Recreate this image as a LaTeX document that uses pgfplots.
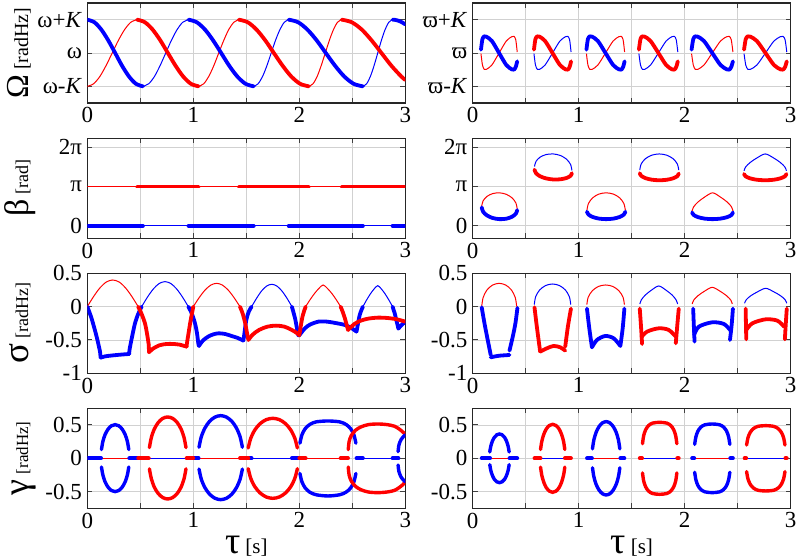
\documentclass[border=0pt]{standalone}
\usepackage{pgfplots}
\pgfplotsset{compat=1.18}
\usepackage{fontspec}
\setmainfont{Liberation Serif}
\definecolor{cb}{RGB}{0,0,255}
\definecolor{cr}{RGB}{255,0,0}
\pgfplotsset{
  panel/.style={scale only axis, width=159pt, height=50pt, xmin=0, xmax=3, anchor=south west,
    xtick={0,1,2,3}, xticklabels={0,1,2,3}, minor xtick={0.5,1.5,2.5},
    grid=both, major grid style={black!18, line width=0.4pt}, minor grid style={black!18, line width=0.4pt},
    axis line style={black!85, line width=0.65pt},
    tick style={black!75, line width=0.5pt}, major tick length=2.5pt, minor tick length=2.5pt,
    ticklabel style={font=\fontsize{11.5}{13}\selectfont},
    xticklabel style={inner sep=2pt},
    yticklabel style={inner sep=2.5pt},
    every axis y label/.style={at={(axis description cs:-0.186,0.5)}, rotate=90, anchor=base},
    every axis x label/.style={at={(axis description cs:0.5,-0.45)}, anchor=base},
  },
  thk/.style={line width=1.9pt, line join=round, line cap=round},
  thn/.style={line width=0.5pt},
  ell/.style={line width=1.7pt, smooth, line cap=round},
}
\begin{document}
\begin{tikzpicture}
\path[use as bounding box] (0pt,0pt) rectangle (400pt,-279.5pt);

%% ---------------- Row 1 left: Omega
\begin{axis}[panel, at={(43.65pt,-51.5pt)}, ymin=-1.5, ymax=1.5, ytick={-1,0,1},
  yticklabels={ω-\textit{K},ω,ω+\textit{K}},
  ylabel={{\fontsize{16}{16}\selectfont Ω} {\fontsize{10}{10}\selectfont[radHz]}}]
\addplot[cr,thn,smooth] coordinates {(0,-1)(0.059,-0.924)(0.118,-0.707)(0.176,-0.383)(0.235,0)(0.294,0.383)(0.353,0.707)(0.411,0.924)(0.47,1)};
\addplot[cr,thn,smooth] coordinates {(1.05,-1)(1.098,-0.924)(1.145,-0.707)(1.193,-0.383)(1.24,0)(1.288,0.383)(1.335,0.707)(1.383,0.924)(1.43,1)};
\addplot[cr,thn,smooth] coordinates {(2.09,-1)(2.129,-0.924)(2.168,-0.707)(2.206,-0.383)(2.245,0)(2.284,0.383)(2.323,0.707)(2.361,0.924)(2.4,1)};
\addplot[cb,thn,smooth] coordinates {(0.525,-1)(0.579,-0.924)(0.633,-0.707)(0.686,-0.383)(0.74,0)(0.794,0.383)(0.848,0.707)(0.901,0.924)(0.955,1)};
\addplot[cb,thn,smooth] coordinates {(1.57,-1)(1.611,-0.924)(1.653,-0.707)(1.694,-0.383)(1.735,0)(1.776,0.383)(1.818,0.707)(1.859,0.924)(1.9,1)};
\addplot[cb,thn,smooth] coordinates {(2.6,-1)(2.635,-0.924)(2.67,-0.707)(2.705,-0.383)(2.74,0)(2.775,0.383)(2.81,0.707)(2.845,0.924)(2.88,1)};
\addplot[cb,thk,smooth] coordinates {(0,1)(0.066,0.924)(0.131,0.707)(0.197,0.383)(0.263,0)(0.328,-0.383)(0.394,-0.707)(0.459,-0.924)(0.525,-1)};
\addplot[cb,thk,smooth] coordinates {(0.955,1)(1.032,0.924)(1.109,0.707)(1.186,0.383)(1.263,0)(1.339,-0.383)(1.416,-0.707)(1.493,-0.924)(1.57,-1)};
\addplot[cb,thk,smooth] coordinates {(1.9,1)(1.988,0.924)(2.075,0.707)(2.163,0.383)(2.25,0)(2.338,-0.383)(2.425,-0.707)(2.513,-0.924)(2.6,-1)};
\addplot[cb,thk,smooth] coordinates {(2.88,1)(2.9,0.996)(2.94,0.964)(2.97,0.919)(3.0,0.858)};
\addplot[cr,thk,smooth] coordinates {(0.47,1)(0.543,0.924)(0.615,0.707)(0.688,0.383)(0.76,0)(0.833,-0.383)(0.905,-0.707)(0.978,-0.924)(1.05,-1)};
\addplot[cr,thk,smooth] coordinates {(1.43,1)(1.513,0.924)(1.595,0.707)(1.678,0.383)(1.76,0)(1.843,-0.383)(1.925,-0.707)(2.008,-0.924)(2.09,-1)};
\addplot[cr,thk,smooth] coordinates {(2.4,1)(2.494,0.924)(2.588,0.707)(2.681,0.383)(2.775,0)(2.869,-0.383)(2.963,-0.707)(3.0,-0.809)};
\end{axis}

%% ---------------- Row 1 right: varpi
\begin{axis}[panel, at={(236.35pt,-51.5pt)}, ymin=-1.5, ymax=1.5, ytick={-1,0,1},
  yticklabels={ϖ-\textit{K},ϖ,ϖ+\textit{K}}]
\addplot[cr,thn,smooth] coordinates {(0.078,-0.02)(0.092,-0.36)(0.109,-0.49)(0.129,-0.49)(0.181,-0.36)(0.249,0)(0.317,0.36)(0.369,0.49)(0.389,0.5)(0.406,0.4)(0.42,0.03)};
\addplot[cb,thn,smooth] coordinates {(0.578,-0.02)(0.592,-0.36)(0.61,-0.49)(0.631,-0.49)(0.683,-0.36)(0.753,0)(0.823,0.36)(0.876,0.49)(0.897,0.5)(0.914,0.4)(0.928,0.03)};
\addplot[cr,thn,smooth] coordinates {(1.073,-0.02)(1.087,-0.36)(1.105,-0.49)(1.127,-0.49)(1.181,-0.36)(1.253,0)(1.325,0.36)(1.379,0.49)(1.401,0.5)(1.419,0.4)(1.433,0.03)};
\addplot[cb,thn,smooth] coordinates {(1.568,-0.02)(1.583,-0.36)(1.601,-0.49)(1.623,-0.49)(1.678,-0.36)(1.752,0)(1.825,0.36)(1.88,0.49)(1.902,0.5)(1.92,0.4)(1.935,0.03)};
\addplot[cr,thn,smooth] coordinates {(2.065,-0.02)(2.081,-0.36)(2.1,-0.49)(2.124,-0.49)(2.182,-0.36)(2.26,0)(2.338,0.36)(2.397,0.49)(2.42,0.5)(2.439,0.4)(2.455,0.03)};
\addplot[cb,thn,smooth] coordinates {(2.56,-0.02)(2.576,-0.36)(2.596,-0.49)(2.62,-0.49)(2.681,-0.36)(2.762,0)(2.842,0.36)(2.903,0.49)(2.927,0.5)(2.947,0.4)(2.963,0.03)};
\addplot[cb,thk,smooth] coordinates {(0.078,0.1)(0.092,0.42)(0.109,0.5)(0.129,0.49)(0.181,0.36)(0.249,0)(0.317,-0.36)(0.369,-0.49)(0.389,-0.5)(0.406,-0.42)(0.42,-0.25)};
\addplot[cr,thk,smooth] coordinates {(0.578,0.1)(0.592,0.42)(0.61,0.5)(0.631,0.49)(0.683,0.36)(0.753,0)(0.823,-0.36)(0.876,-0.49)(0.897,-0.5)(0.914,-0.42)(0.928,-0.25)};
\addplot[cb,thk,smooth] coordinates {(1.073,0.1)(1.087,0.42)(1.105,0.5)(1.127,0.49)(1.181,0.36)(1.253,0)(1.325,-0.36)(1.379,-0.49)(1.401,-0.5)(1.419,-0.42)(1.433,-0.25)};
\addplot[cr,thk,smooth] coordinates {(1.568,0.1)(1.583,0.42)(1.601,0.5)(1.623,0.49)(1.678,0.36)(1.752,0)(1.825,-0.36)(1.88,-0.49)(1.902,-0.5)(1.92,-0.42)(1.935,-0.25)};
\addplot[cb,thk,smooth] coordinates {(2.065,0.1)(2.081,0.42)(2.1,0.5)(2.124,0.49)(2.182,0.36)(2.26,0)(2.338,-0.36)(2.397,-0.49)(2.42,-0.5)(2.439,-0.42)(2.455,-0.25)};
\addplot[cr,thk,smooth] coordinates {(2.56,0.1)(2.576,0.42)(2.596,0.5)(2.62,0.49)(2.681,0.36)(2.762,0)(2.842,-0.36)(2.903,-0.49)(2.927,-0.5)(2.947,-0.42)(2.963,-0.25)};
\end{axis}

%% ---------------- Row 2 left: beta (units of pi)
\begin{axis}[panel, at={(43.65pt,-119.15pt)}, ymin=-0.318, ymax=2.228, ytick={0,1,2},
  yticklabels={0,π,2π},
  ylabel={{\fontsize{17}{17}\selectfont β} {\fontsize{9}{9}\selectfont[rad]}}]
\addplot[cr,thn] coordinates {(0,1)(3,1)};
\addplot[cb,thn] coordinates {(0,0)(3,0)};
\addplot[cr,thk] coordinates {(0.47,1)(1.05,1)};
\addplot[cr,thk] coordinates {(1.43,1)(2.09,1)};
\addplot[cr,thk] coordinates {(2.4,1)(3,1)};
\addplot[cb,thk] coordinates {(0,0)(0.525,0)};
\addplot[cb,thk] coordinates {(0.955,0)(1.57,0)};
\addplot[cb,thk] coordinates {(1.9,0)(2.6,0)};
\addplot[cb,thk] coordinates {(2.88,0)(3,0)};
\end{axis}

%% ---------------- Row 2 right: beta
\begin{axis}[panel, at={(236.35pt,-119.15pt)}, ymin=-0.318, ymax=2.228, ytick={0,1,2},
  yticklabels={0,π,2π}]
\addplot[cr,thn,smooth] coordinates {(0.085,0.5)(0.098,0.635)(0.134,0.748)(0.188,0.82)(0.253,0.84)(0.317,0.802)(0.371,0.713)(0.407,0.583)(0.42,0.43)};
\addplot[cb,thn,smooth] coordinates {(0.583,1.51)(0.597,1.64)(0.635,1.747)(0.692,1.814)(0.76,1.83)(0.828,1.79)(0.885,1.697)(0.923,1.564)(0.936,1.41)};
\addplot[cr,thn,smooth] coordinates {(1.078,0.4)(1.092,0.568)(1.131,0.711)(1.19,0.807)(1.259,0.84)(1.328,0.807)(1.387,0.711)(1.426,0.568)(1.44,0.4)};
\addplot[cb,thn,smooth] coordinates {(1.576,1.42)(1.59,1.577)(1.63,1.71)(1.69,1.799)(1.76,1.83)(1.83,1.799)(1.89,1.71)(1.93,1.577)(1.944,1.42)};
\addplot[cr,thn,smooth] coordinates {(2.07,0.38)(2.085,0.486)(2.127,0.61)(2.189,0.734)(2.263,0.84)(2.336,0.734)(2.399,0.61)(2.441,0.486)(2.455,0.38)};
\addplot[cb,thn,smooth] coordinates {(2.56,1.4)(2.575,1.499)(2.619,1.615)(2.683,1.731)(2.76,1.83)(2.837,1.731)(2.901,1.615)(2.945,1.499)(2.96,1.4)};
\addplot[cb,thk,smooth] coordinates {(0.085,0.47)(0.098,0.36)(0.134,0.266)(0.188,0.199)(0.253,0.17)(0.317,0.181)(0.371,0.231)(0.407,0.308)(0.42,0.4)};
\addplot[cr,thk,smooth] coordinates {(0.583,1.43)(0.597,1.34)(0.635,1.263)(0.692,1.207)(0.76,1.18)(0.828,1.185)(0.885,1.218)(0.923,1.273)(0.936,1.34)};
\addplot[cb,thk,smooth] coordinates {(1.078,0.36)(1.092,0.287)(1.131,0.226)(1.19,0.184)(1.259,0.17)(1.328,0.184)(1.387,0.226)(1.426,0.287)(1.44,0.36)};
\addplot[cr,thk,smooth] coordinates {(1.576,1.34)(1.59,1.272)(1.63,1.214)(1.69,1.174)(1.76,1.16)(1.83,1.172)(1.89,1.209)(1.93,1.264)(1.944,1.33)};
\addplot[cb,thk,smooth] coordinates {(2.07,0.34)(2.085,0.275)(2.127,0.22)(2.189,0.183)(2.263,0.17)(2.336,0.183)(2.399,0.22)(2.441,0.275)(2.455,0.34)};
\addplot[cr,thk,smooth] coordinates {(2.56,1.32)(2.575,1.259)(2.619,1.207)(2.683,1.172)(2.76,1.16)(2.837,1.172)(2.901,1.207)(2.945,1.259)(2.96,1.32)};
\end{axis}

%% ---------------- Row 3 left: sigma
\begin{axis}[panel, at={(43.65pt,-186.65pt)}, ymin=-1, ymax=0.5, ytick={-1,-0.5,0,0.5},
  yticklabels={-1,-0.5,0,0.5},
  ylabel={{\fontsize{18.5}{18.5}\selectfont σ} {\fontsize{9}{9}\selectfont[radHz]}}]
\addplot[cr,thn,smooth] coordinates {(0,0)(0.06,0.153)(0.12,0.283)(0.18,0.37)(0.24,0.4)(0.3,0.37)(0.36,0.283)(0.42,0.153)(0.48,0)};
\addplot[cb,thn,smooth] coordinates {(0.513,0)(0.568,0.144)(0.623,0.265)(0.678,0.347)(0.733,0.375)(0.788,0.347)(0.843,0.265)(0.898,0.144)(0.953,0)};
\addplot[cr,thn,smooth] coordinates {(1.0,0)(1.055,0.134)(1.11,0.247)(1.165,0.323)(1.22,0.35)(1.275,0.323)(1.33,0.247)(1.385,0.134)(1.44,0)};
\addplot[cb,thn,smooth] coordinates {(1.55,0)(1.598,0.128)(1.645,0.237)(1.693,0.31)(1.74,0.335)(1.788,0.31)(1.835,0.237)(1.883,0.128)(1.93,0)};
\addplot[cr,thn,smooth] coordinates {(2.06,0)(2.101,0.103)(2.143,0.196)(2.184,0.272)(2.225,0.325)(2.266,0.272)(2.308,0.196)(2.349,0.103)(2.39,0)};
\addplot[cb,thn,smooth] coordinates {(2.6,0)(2.635,0.1)(2.67,0.19)(2.705,0.264)(2.74,0.315)(2.775,0.264)(2.81,0.19)(2.845,0.1)(2.88,0)};
% blue thick
\addplot[cb,thk,smooth] coordinates {(0,0)(0.04,-0.175)(0.088,-0.45)(0.12,-0.675)};
\addplot[cb,thk] coordinates {(0.12,-0.675)(0.126,-0.765)};
\addplot[cb,thk,smooth] coordinates {(0.126,-0.765)(0.17,-0.745)(0.22,-0.735)(0.26,-0.728)(0.33,-0.718)(0.396,-0.71)};
\addplot[cb,thk,smooth] coordinates {(0.396,-0.71)(0.398,-0.65)(0.42,-0.47)(0.45,-0.25)(0.48,-0.11)(0.513,0)};
\addplot[cb,thk,smooth] coordinates {(0.953,0)(0.985,-0.1)(1.016,-0.25)(1.035,-0.4)(1.047,-0.55)(1.053,-0.59)};
\addplot[cb,thk,smooth] coordinates {(1.053,-0.59)(1.09,-0.51)(1.14,-0.45)(1.19,-0.415)(1.24,-0.4)(1.3,-0.41)(1.36,-0.44)(1.42,-0.47)(1.472,-0.51)};
\addplot[cb,thk,smooth] coordinates {(1.472,-0.51)(1.478,-0.45)(1.5,-0.2)(1.525,-0.07)(1.55,0)};
\addplot[cb,thk,smooth] coordinates {(1.93,0)(1.96,-0.175)(1.975,-0.3)(1.99,-0.425)(2.0,-0.43)};
\addplot[cb,thk,smooth] coordinates {(2.0,-0.43)(2.05,-0.33)(2.1,-0.27)(2.18,-0.225)(2.26,-0.225)(2.34,-0.245)(2.43,-0.275)(2.49,-0.32)(2.54,-0.375)};
\addplot[cb,thk,smooth] coordinates {(2.54,-0.375)(2.545,-0.33)(2.57,-0.125)(2.6,0)};
\addplot[cb,thk] coordinates {(2.88,0)(2.9,-0.1)(2.92,-0.23)(2.935,-0.33)(2.95,-0.3)(2.975,-0.26)(3.0,-0.23)};
% red thick
\addplot[cr,thk,smooth] coordinates {(0.48,0)(0.51,-0.1)(0.544,-0.25)(0.565,-0.42)(0.58,-0.575)};
\addplot[cr,thk] coordinates {(0.58,-0.575)(0.582,-0.685)};
\addplot[cr,thk,smooth] coordinates {(0.582,-0.685)(0.62,-0.63)(0.68,-0.58)(0.748,-0.56)(0.81,-0.56)(0.87,-0.57)(0.937,-0.6)};
\addplot[cr,thk,smooth] coordinates {(0.937,-0.6)(0.94,-0.55)(0.955,-0.4)(0.97,-0.25)(0.985,-0.12)(1.0,0)};
\addplot[cr,thk,smooth] coordinates {(1.44,0)(1.465,-0.1)(1.49,-0.25)(1.505,-0.38)(1.52,-0.5)};
\addplot[cr,thk,smooth] coordinates {(1.52,-0.5)(1.56,-0.42)(1.62,-0.35)(1.7,-0.3)(1.78,-0.285)(1.86,-0.3)(1.93,-0.35)(1.98,-0.4)(2.0,-0.43)};
\addplot[cr,thk,smooth] coordinates {(2.0,-0.43)(2.005,-0.38)(2.03,-0.15)(2.06,0)};
\addplot[cr,thk,smooth] coordinates {(2.39,0)(2.41,-0.08)(2.43,-0.175)(2.46,-0.35)};
\addplot[cr,thk,smooth] coordinates {(2.46,-0.35)(2.52,-0.26)(2.58,-0.21)(2.65,-0.18)(2.74,-0.165)(2.83,-0.17)(2.92,-0.19)(3.0,-0.225)};
\end{axis}

%% ---------------- Row 3 right: sigma
\begin{axis}[panel, at={(236.35pt,-186.65pt)}, ymin=-1, ymax=0.5, ytick={-1,-0.5,0,0.5},
  yticklabels={-1,-0.5,0,0.5}]
\addplot[cr,thn,smooth] coordinates {(0.085,0)(0.098,0.134)(0.133,0.247)(0.187,0.323)(0.25,0.35)(0.313,0.323)(0.367,0.247)(0.402,0.134)(0.415,0)};
\addplot[cb,thn,smooth] coordinates {(0.581,0.03)(0.594,0.149)(0.631,0.249)(0.687,0.316)(0.753,0.34)(0.819,0.316)(0.875,0.249)(0.912,0.149)(0.925,0.03)};
\addplot[cr,thn,smooth] coordinates {(1.077,0.03)(1.09,0.143)(1.129,0.239)(1.186,0.303)(1.254,0.325)(1.322,0.303)(1.379,0.239)(1.418,0.143)(1.431,0.03)};
\addplot[cb,thn,smooth] coordinates {(1.577,0.04)(1.591,0.102)(1.629,0.175)(1.687,0.248)(1.755,0.31)(1.823,0.248)(1.881,0.175)(1.919,0.102)(1.933,0.04)};
\addplot[cr,thn,smooth] coordinates {(2.071,0.04)(2.085,0.098)(2.126,0.165)(2.188,0.233)(2.26,0.29)(2.332,0.233)(2.394,0.165)(2.435,0.098)(2.449,0.04)};
\addplot[cb,thn,smooth] coordinates {(2.565,0.05)(2.58,0.102)(2.623,0.163)(2.688,0.223)(2.764,0.275)(2.84,0.223)(2.905,0.163)(2.948,0.102)(2.963,0.05)};
% shape 0 blue
\addplot[cb,thk,smooth] coordinates {(0.085,-0.01)(0.1,-0.15)(0.117,-0.3)(0.148,-0.55)(0.17,-0.725)};
\addplot[cb,thk,smooth] coordinates {(0.17,-0.76)(0.215,-0.745)(0.258,-0.735)(0.3,-0.73)(0.347,-0.725)};
\addplot[cb,thk,smooth] coordinates {(0.347,-0.66)(0.378,-0.45)(0.403,-0.25)(0.422,-0.02)};
% shape 1 red
\addplot[cr,thk,smooth] coordinates {(0.583,-0.01)(0.605,-0.3)(0.636,-0.67)};
\addplot[cr,thk,smooth] coordinates {(0.636,-0.675)(0.7,-0.625)(0.763,-0.59)(0.826,-0.61)(0.873,-0.66)};
\addplot[cr,thk,smooth] coordinates {(0.873,-0.6)(0.898,-0.3)(0.927,-0.03)};
% shape 2 blue
\addplot[cb,thk,smooth] coordinates {(1.078,-0.03)(1.1,-0.325)(1.125,-0.61)};
\addplot[cb,thk,smooth] coordinates {(1.125,-0.61)(1.172,-0.5)(1.251,-0.44)(1.33,-0.475)(1.393,-0.59)};
\addplot[cb,thk,smooth] coordinates {(1.393,-0.59)(1.415,-0.325)(1.431,-0.03)};
% shape 3 red
\addplot[cr,thk,smooth] coordinates {(1.576,-0.03)(1.588,-0.3)(1.598,-0.56)};
\addplot[cr,thk,smooth] coordinates {(1.59,-0.46)(1.645,-0.375)(1.755,-0.325)(1.85,-0.35)(1.922,-0.46)};
\addplot[cr,thk,smooth] coordinates {(1.944,-0.03)(1.929,-0.3)(1.916,-0.55)};
% shape 4 blue
\addplot[cb,thk,smooth] coordinates {(2.08,-0.03)(2.086,-0.275)(2.093,-0.525)};
\addplot[cb,thk,smooth] coordinates {(2.088,-0.425)(2.134,-0.3)(2.26,-0.235)(2.37,-0.26)(2.433,-0.36)};
\addplot[cb,thk,smooth] coordinates {(2.455,-0.03)(2.443,-0.275)(2.427,-0.5)};
% shape 5 red
\addplot[cr,thk,smooth] coordinates {(2.575,-0.03)(2.578,-0.275)(2.581,-0.49)};
\addplot[cr,thk,smooth] coordinates {(2.581,-0.35)(2.638,-0.25)(2.764,-0.19)(2.874,-0.21)(2.937,-0.3)};
\addplot[cr,thk,smooth] coordinates {(2.963,-0.03)(2.953,-0.275)(2.945,-0.49)};
\end{axis}

%% ---------------- Row 4 left: gamma
\begin{axis}[panel, at={(43.65pt,-254.15pt)}, ymin=-0.75, ymax=0.75, ytick={-0.5,0,0.5},
  yticklabels={-0.5,0,0.5},
  ylabel={{\fontsize{18}{18}\selectfont γ} {\fontsize{8.5}{8.5}\selectfont[radHz]}},
  xlabel={{\fontsize{19}{19}\selectfont τ} {\fontsize{10.5}{10.5}\selectfont[s]}}]
\addplot[cr,thn] coordinates {(0,0)(0.48,0)};
\addplot[cr,thn] coordinates {(1.0,0)(1.44,0)};
\addplot[cr,thn] coordinates {(2.06,0)(2.39,0)};
\addplot[cb,thn] coordinates {(0.513,0)(0.953,0)};
\addplot[cb,thn] coordinates {(1.55,0)(1.93,0)};
\addplot[cb,thn] coordinates {(2.6,0)(2.88,0)};
\addplot[cb,thk] coordinates {(0,0)(0.13,0)};
\addplot[cb,thk] coordinates {(0.396,0)(0.513,0)};
\addplot[cb,thk] coordinates {(0.953,0)(1.05,0)};
\addplot[cb,thk] coordinates {(1.47,0)(1.55,0)};
\addplot[cb,thk] coordinates {(1.93,0)(2.0,0)};
\addplot[cb,thk] coordinates {(2.54,0)(2.6,0)};
\addplot[cb,thk] coordinates {(2.88,0)(2.935,0)};
\addplot[cr,thk] coordinates {(0.48,0)(0.58,0)};
\addplot[cr,thk] coordinates {(0.937,0)(1.0,0)};
\addplot[cr,thk] coordinates {(1.44,0)(1.52,0)};
\addplot[cr,thk] coordinates {(2.0,0)(2.06,0)};
\addplot[cr,thk] coordinates {(2.39,0)(2.46,0)};
% E1 blue
\addplot[cb,ell] coordinates {(0.1335,0.131)(0.147,0.253)(0.168,0.357)(0.196,0.437)(0.228,0.488)(0.2625,0.505)(0.297,0.488)(0.329,0.437)(0.357,0.357)(0.378,0.253)(0.3915,0.131)};
\addplot[cb,ell] coordinates {(0.1335,-0.13)(0.147,-0.25)(0.168,-0.354)(0.196,-0.433)(0.228,-0.483)(0.2625,-0.5)(0.297,-0.483)(0.329,-0.433)(0.357,-0.354)(0.378,-0.25)(0.3915,-0.13)};
% E2 red
\addplot[cr,ell] coordinates {(0.586,0.161)(0.604,0.31)(0.632,0.438)(0.669,0.537)(0.712,0.599)(0.7585,0.62)(0.805,0.599)(0.848,0.537)(0.885,0.438)(0.913,0.31)(0.931,0.161)};
\addplot[cr,ell] coordinates {(0.586,-0.158)(0.604,-0.305)(0.632,-0.431)(0.669,-0.528)(0.712,-0.589)(0.7585,-0.61)(0.805,-0.589)(0.848,-0.528)(0.885,-0.431)(0.913,-0.305)(0.931,-0.158)};
% E3 blue
\addplot[cb,ell] coordinates {(1.054,0.166)(1.075,0.32)(1.109,0.452)(1.153,0.554)(1.204,0.618)(1.2585,0.64)(1.313,0.618)(1.364,0.554)(1.408,0.452)(1.442,0.32)(1.463,0.166)};
\addplot[cb,ell] coordinates {(1.054,-0.161)(1.075,-0.31)(1.109,-0.438)(1.153,-0.537)(1.204,-0.599)(1.2585,-0.62)(1.313,-0.599)(1.364,-0.537)(1.408,-0.438)(1.442,-0.31)(1.463,-0.161)};
% E4 red
\addplot[cr,ell] coordinates {(1.518,0.155)(1.542,0.3)(1.58,0.424)(1.63,0.52)(1.688,0.58)(1.75,0.6)(1.812,0.58)(1.87,0.52)(1.92,0.424)(1.958,0.3)(1.982,0.155)};
\addplot[cr,ell] coordinates {(1.518,-0.155)(1.542,-0.3)(1.58,-0.424)(1.63,-0.52)(1.688,-0.58)(1.75,-0.6)(1.812,-0.58)(1.87,-0.52)(1.92,-0.424)(1.958,-0.3)(1.982,-0.155)};
% E5 blue
\addplot[cb,ell] coordinates {(2.006,0.227)(2.025,0.353)(2.056,0.445)(2.1,0.509)(2.16,0.547)(2.27,0.56)(2.38,0.547)(2.44,0.509)(2.484,0.445)(2.515,0.353)(2.534,0.227)};
\addplot[cb,ell] coordinates {(2.006,-0.227)(2.025,-0.353)(2.056,-0.445)(2.1,-0.509)(2.16,-0.547)(2.27,-0.565)(2.38,-0.547)(2.44,-0.509)(2.484,-0.445)(2.515,-0.353)(2.534,-0.227)};
% E6 red
\addplot[cr,ell] coordinates {(2.462,0.13)(2.47,0.25)(2.49,0.34)(2.53,0.42)(2.58,0.47)(2.65,0.505)(2.74,0.515)(2.83,0.505)(2.9,0.48)(2.95,0.43)(2.98,0.39)(3.0,0.36)};
\addplot[cr,ell] coordinates {(2.462,-0.13)(2.47,-0.25)(2.49,-0.34)(2.53,-0.42)(2.58,-0.47)(2.65,-0.505)(2.74,-0.515)(2.83,-0.505)(2.9,-0.48)(2.95,-0.43)(2.98,-0.39)(3.0,-0.35)};
% E7 blue
\addplot[cb,ell] coordinates {(2.932,0.1)(2.94,0.2)(2.96,0.28)(2.985,0.33)(3.0,0.35)};
\addplot[cb,ell] coordinates {(2.932,-0.1)(2.94,-0.2)(2.96,-0.28)(2.985,-0.33)(3.0,-0.35)};
\end{axis}

%% ---------------- Row 4 right: gamma
\begin{axis}[panel, at={(236.35pt,-254.15pt)}, ymin=-0.75, ymax=0.75, ytick={-0.5,0,0.5},
  yticklabels={-0.5,0,0.5},
  xlabel={{\fontsize{19}{19}\selectfont τ} {\fontsize{10.5}{10.5}\selectfont[s]}}]
\addplot[cr,thn] coordinates {(0.164,0)(0.347,0)};
\addplot[cb,thn] coordinates {(0.64,0)(0.87,0)};
\addplot[cr,thn] coordinates {(1.125,0)(1.393,0)};
\addplot[cb,thn] coordinates {(1.598,0)(1.93,0)};
\addplot[cr,thn] coordinates {(2.09,0)(2.43,0)};
\addplot[cb,thn] coordinates {(2.58,0)(2.95,0)};
\addplot[cb,thk] coordinates {(0.085,0)(0.164,0)};
\addplot[cb,thk] coordinates {(0.347,0)(0.42,0)};
\addplot[cr,thk] coordinates {(0.583,0)(0.64,0)};
\addplot[cr,thk] coordinates {(0.87,0)(0.927,0)};
\addplot[cb,thk] coordinates {(1.078,0)(1.125,0)};
\addplot[cb,thk] coordinates {(1.393,0)(1.431,0)};
\addplot[cr,thk] coordinates {(1.576,0)(1.598,0)};
\addplot[cr,thk] coordinates {(1.93,0)(1.944,0)};
\addplot[cb,thk] coordinates {(2.07,0)(2.09,0)};
\addplot[cb,thk] coordinates {(2.43,0)(2.455,0)};
\addplot[cr,thk] coordinates {(2.565,0)(2.58,0)};
\addplot[cr,thk] coordinates {(2.95,0)(2.963,0)};
% F0 blue
\addplot[cb,ell] coordinates {(0.161,0.095)(0.171,0.183)(0.186,0.258)(0.205,0.316)(0.228,0.353)(0.2525,0.365)(0.277,0.353)(0.3,0.316)(0.319,0.258)(0.334,0.183)(0.344,0.095)};
\addplot[cb,ell] coordinates {(0.161,-0.095)(0.171,-0.183)(0.186,-0.258)(0.205,-0.316)(0.228,-0.353)(0.2525,-0.365)(0.277,-0.353)(0.3,-0.316)(0.319,-0.258)(0.334,-0.183)(0.344,-0.095)};
% F1 red
\addplot[cr,ell] coordinates {(0.64,0.132)(0.652,0.255)(0.671,0.361)(0.695,0.442)(0.724,0.493)(0.7545,0.51)(0.785,0.493)(0.814,0.442)(0.838,0.361)(0.857,0.255)(0.869,0.132)};
\addplot[cr,ell] coordinates {(0.64,-0.132)(0.652,-0.255)(0.671,-0.361)(0.695,-0.442)(0.724,-0.493)(0.7545,-0.51)(0.785,-0.493)(0.814,-0.442)(0.838,-0.361)(0.857,-0.255)(0.869,-0.132)};
% F2 blue
\addplot[cb,ell] coordinates {(1.13,0.142)(1.143,0.275)(1.164,0.389)(1.192,0.476)(1.224,0.531)(1.259,0.55)(1.294,0.531)(1.326,0.476)(1.354,0.389)(1.375,0.275)(1.388,0.142)};
\addplot[cb,ell] coordinates {(1.13,-0.142)(1.143,-0.275)(1.164,-0.389)(1.192,-0.476)(1.224,-0.531)(1.259,-0.55)(1.294,-0.531)(1.326,-0.476)(1.354,-0.389)(1.375,-0.275)(1.388,-0.142)};
% F3 red
\addplot[cr,ell] coordinates {(1.602,0.219)(1.613,0.34)(1.632,0.429)(1.659,0.491)(1.697,0.528)(1.764,0.54)(1.831,0.528)(1.869,0.491)(1.896,0.429)(1.915,0.34)(1.926,0.219)};
\addplot[cr,ell] coordinates {(1.602,-0.219)(1.613,-0.34)(1.632,-0.429)(1.659,-0.491)(1.697,-0.528)(1.764,-0.54)(1.831,-0.528)(1.869,-0.491)(1.896,-0.429)(1.915,-0.34)(1.926,-0.219)};
% F4 blue
\addplot[cb,ell] coordinates {(2.094,0.209)(2.106,0.324)(2.125,0.409)(2.153,0.468)(2.191,0.503)(2.26,0.515)(2.329,0.503)(2.367,0.468)(2.395,0.409)(2.414,0.324)(2.426,0.209)};
\addplot[cb,ell] coordinates {(2.094,-0.209)(2.106,-0.324)(2.125,-0.409)(2.153,-0.468)(2.191,-0.503)(2.26,-0.515)(2.329,-0.503)(2.367,-0.468)(2.395,-0.409)(2.414,-0.324)(2.426,-0.209)};
% F5 red
\addplot[cr,ell] coordinates {(2.584,0.199)(2.597,0.309)(2.618,0.389)(2.648,0.445)(2.69,0.479)(2.765,0.49)(2.84,0.479)(2.882,0.445)(2.912,0.389)(2.933,0.309)(2.946,0.199)};
\addplot[cr,ell] coordinates {(2.584,-0.199)(2.597,-0.309)(2.618,-0.389)(2.648,-0.445)(2.69,-0.479)(2.765,-0.49)(2.84,-0.479)(2.882,-0.445)(2.912,-0.389)(2.933,-0.309)(2.946,-0.199)};
\end{axis}
\end{tikzpicture}
\end{document}
